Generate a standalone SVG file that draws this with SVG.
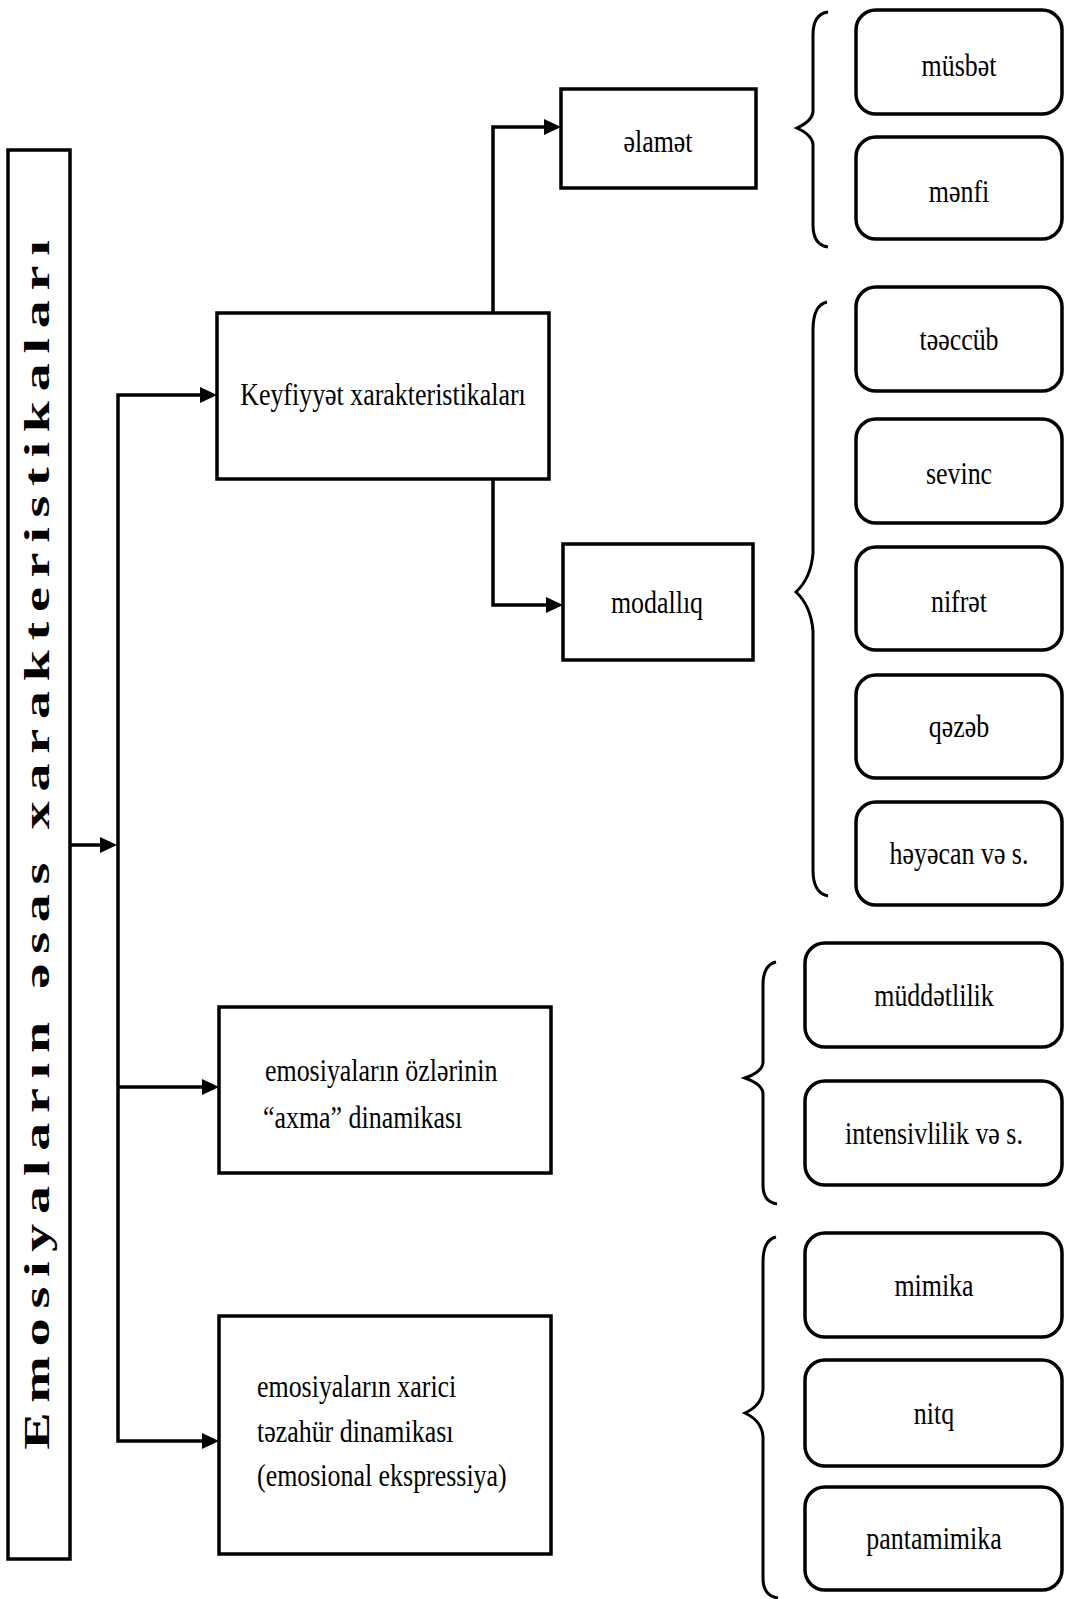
<svg xmlns="http://www.w3.org/2000/svg" width="1065" height="1599" viewBox="0 0 1065 1599">
<style>
.b{fill:#fff;stroke:#000;stroke-width:3.5}
.r{fill:#fff;stroke:#000;stroke-width:3.5}
.t{font-family:"Liberation Serif","Times New Roman",serif;font-size:32px;fill:#000}
.c{fill:none;stroke:#000;stroke-width:3.5;stroke-linejoin:miter}
.br{fill:none;stroke:#000;stroke-width:3}
.title{font-family:"Liberation Serif","Times New Roman",serif;font-size:35px;font-weight:bold;fill:#000}
</style>
<defs>
<marker id="ah" markerUnits="userSpaceOnUse" markerWidth="17" markerHeight="16" refX="13" refY="8" orient="auto-start-reverse">
<path d="M0,0 L17,8 L0,16 z" fill="#000"/>
</marker>
</defs>
<rect width="1065" height="1599" fill="#fff"/>

<g id="connectors">
<path class="c" d="M71,845 H113" marker-end="url(#ah)"/>
<path class="c" d="M213,395 H118 V1441 H215" marker-start="url(#ah)" marker-end="url(#ah)"/>
<path class="c" d="M118,1087 H215" marker-end="url(#ah)"/>
<path class="c" d="M493,313 V127 H557" marker-end="url(#ah)"/>
<path class="c" d="M493,479 V605 H559" marker-end="url(#ah)"/>
</g>

<g id="braces">
<path class="br" d="M828,12 Q813,14 813,35 L813,112 Q812,121 797,128 Q812,135 813,144 L813,225 Q813,245 828,247"/>
<path class="br" d="M827,302 Q813,305 813,330 L813,553 Q811,578 796,592 Q811,606 813,631 L813,870 Q813,893 828,896"/>
<path class="br" d="M776,962 Q763,965 763,985 L763,1063 Q762,1072 745,1078 Q762,1084 763,1093 L763,1185 Q763,1202 777,1204"/>
<path class="br" d="M776,1237 Q763,1240 763,1262 L763,1390 Q762,1405 745,1413 Q762,1421 763,1437 L763,1578 Q763,1596 778,1598"/>
</g>

<g id="title">
<rect class="b" x="8" y="150" width="62" height="1409"/>
<text class="title" transform="translate(49,845) rotate(-90) scale(1.6,1)" text-anchor="middle" textLength="756" lengthAdjust="spacing">Emosiyaların əsas xarakteristikaları</text>
</g>

<g id="keyfiyyet">
<rect class="b" x="217" y="313" width="332" height="166"/>
<text class="t" transform="translate(383,405) scale(0.81,1)" text-anchor="middle">Keyfiyyət xarakteristikaları</text>
</g>
<g id="elamet">
<rect class="b" x="561" y="89" width="195" height="99"/>
<text class="t" transform="translate(658,152) scale(0.81,1)" text-anchor="middle">əlamət</text>
</g>
<g id="modalliq">
<rect class="b" x="563" y="544" width="190" height="116"/>
<text class="t" transform="translate(657,613) scale(0.81,1)" text-anchor="middle">modallıq</text>
</g>
<g id="axma">
<rect class="b" x="219" y="1007" width="332" height="166"/>
<text class="t" transform="translate(265,1081) scale(0.81,1)">emosiyaların özlərinin</text>
<text class="t" transform="translate(263,1128) scale(0.81,1)">“axma” dinamikası</text>
</g>
<g id="xarici">
<rect class="b" x="219" y="1316" width="332" height="238"/>
<text class="t" transform="translate(257,1397) scale(0.81,1)">emosiyaların xarici</text>
<text class="t" transform="translate(257,1442) scale(0.81,1)">təzahür dinamikası</text>
<text class="t" transform="translate(257,1486) scale(0.81,1)">(emosional ekspressiya)</text>
</g>

<g id="musbet"><rect class="r" x="856" y="10" width="206" height="104" rx="20"/><text class="t" transform="translate(959,76) scale(0.81,1)" text-anchor="middle">müsbət</text></g>
<g id="menfi"><rect class="r" x="856" y="137" width="206" height="102" rx="20"/><text class="t" transform="translate(959,202) scale(0.81,1)" text-anchor="middle">mənfi</text></g>
<g id="teeccub"><rect class="r" x="856" y="287" width="206" height="104" rx="20"/><text class="t" transform="translate(959,350) scale(0.81,1)" text-anchor="middle">təəccüb</text></g>
<g id="sevinc"><rect class="r" x="856" y="419" width="206" height="104" rx="20"/><text class="t" transform="translate(959,484) scale(0.81,1)" text-anchor="middle">sevinc</text></g>
<g id="nifret"><rect class="r" x="856" y="547" width="206" height="103" rx="20"/><text class="t" transform="translate(959,612) scale(0.81,1)" text-anchor="middle">nifrət</text></g>
<g id="qezeb"><rect class="r" x="856" y="675" width="206" height="103" rx="20"/><text class="t" transform="translate(959,737) scale(0.81,1)" text-anchor="middle">qəzəb</text></g>
<g id="heyecan"><rect class="r" x="856" y="802" width="206" height="103" rx="20"/><text class="t" transform="translate(959,864) scale(0.81,1)" text-anchor="middle">həyəcan və s.</text></g>

<g id="muddetlilik"><rect class="r" x="805" y="943" width="257" height="104" rx="20"/><text class="t" transform="translate(934,1006) scale(0.81,1)" text-anchor="middle">müddətlilik</text></g>
<g id="intensivlilik"><rect class="r" x="805" y="1081" width="257" height="104" rx="20"/><text class="t" transform="translate(934,1144) scale(0.81,1)" text-anchor="middle">intensivlilik və s.</text></g>

<g id="mimika"><rect class="r" x="805" y="1233" width="257" height="104" rx="20"/><text class="t" transform="translate(934,1296) scale(0.81,1)" text-anchor="middle">mimika</text></g>
<g id="nitq"><rect class="r" x="805" y="1360" width="257" height="106" rx="20"/><text class="t" transform="translate(934,1424) scale(0.81,1)" text-anchor="middle">nitq</text></g>
<g id="pantamimika"><rect class="r" x="805" y="1487" width="257" height="103" rx="20"/><text class="t" transform="translate(934,1549) scale(0.81,1)" text-anchor="middle">pantamimika</text></g>
</svg>
